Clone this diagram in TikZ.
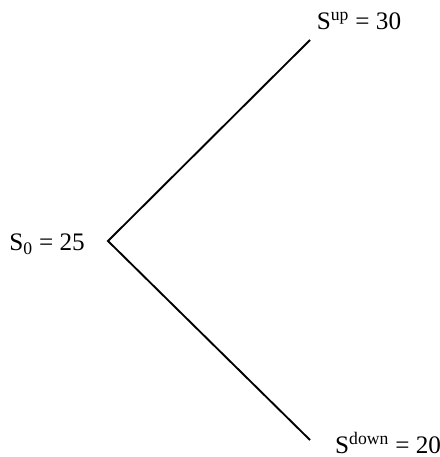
\documentclass[tikz,border=0pt]{standalone}
\usepackage{fontspec}
\setmainfont{Liberation Serif}
\usepackage{tikz}
\usetikzlibrary{positioning}

\begin{document}
\begin{tikzpicture}[
  price/.style={font=\fontsize{21.5}{25}\selectfont, inner sep=0pt},
  branch/.style={line width=1.6pt}
]
  \useasboundingbox (0,0) rectangle (13.2,-13.71);
  \coordinate (root) at (3.24,-7.23);
  \coordinate (upend) at (9.3,-1.2);
  \coordinate (downend) at (9.3,-13.2);

  \node[price, anchor=east] (s0) at (2.55,-7.33) {S\textsubscript{0} = 25};
  \node[price, anchor=west] (sup) at (9.5,-0.62) {S\textsuperscript{up} = 30};
  \node[price, anchor=west] (sdown) at (10.05,-13.28) {S\textsuperscript{down} = 20};

  \draw[branch] (upend) -- (root) -- (downend);
\end{tikzpicture}
\end{document}
